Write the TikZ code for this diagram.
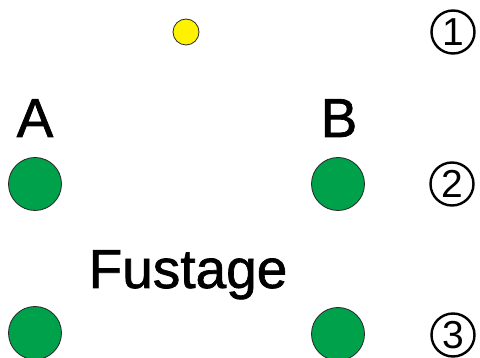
\documentclass[tikz,border=0pt]{standalone}
\usepackage{fontspec}
\setmainfont{Liberation Sans}
\newfontfamily\heavyfont[FakeBold=1.2]{Liberation Sans}
\definecolor{dotgreen}{HTML}{00A14B}
\definecolor{dotyellow}{HTML}{FFF200}
\begin{document}
\begin{tikzpicture}[x=1pt,y=-1pt,
  gdot/.style={circle,draw=black!85,line width=0.8pt,fill=dotgreen,minimum size=53pt,inner sep=0pt},
  ydot/.style={circle,draw=black!85,line width=0.8pt,fill=dotyellow,minimum size=26pt,inner sep=0pt},
  biglabel/.style={font=\heavyfont\fontsize{55}{55}\selectfont,inner sep=0pt,anchor=base},
  numcirc/.style={circle,draw=black,line width=2.4pt,minimum size=43pt,inner sep=0pt,font=\fontsize{39}{39}\selectfont}]
\useasboundingbox (0,0) rectangle (480,358);
\node[ydot] (y) at (186,32) {};
\node[gdot] (a2) at (35,184) {};
\node[gdot] (b2) at (338,184) {};
\node[gdot] (a3) at (35,333) {};
\node[gdot] (b3) at (338,334) {};
\node[biglabel] (la) at (35,137) {A};
\node[biglabel] (lb) at (339,137) {B};
\node[biglabel] (lf) at (188,288) {Fustage};
\node[numcirc] (n1) at (453,32) {1};
\node[numcirc] (n2) at (452,184) {2};
\node[numcirc] (n3) at (453,335) {3};
\end{tikzpicture}
\end{document}
